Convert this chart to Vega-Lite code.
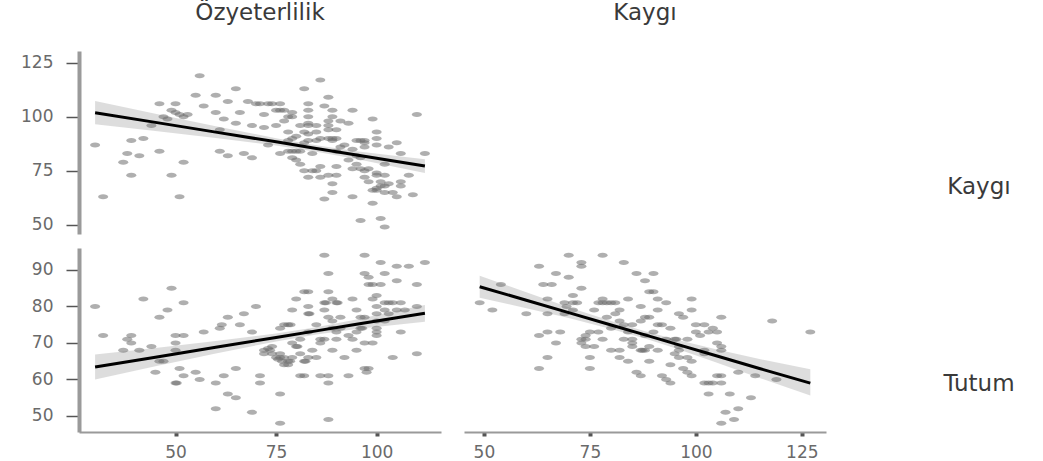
{
"$schema": "https://vega.github.io/schema/vega-lite/v6.json",
"padding": {"left": 20, "top": 2, "right": 0, "bottom": 0},
"background": "white",
"config": {
  "view": {"stroke": null},
  "font": "DejaVu Sans",
  "axis": {"grid": false, "labelFont": "DejaVu Sans", "labelFontSize": 17, "labelColor": "#6a6a6a", "domainColor": "#9a9a9a", "tickColor": "#555"},
  "axisY": {"domainWidth": 4, "tickWidth": 1.5, "tickSize": 13, "labelPadding": 13},
  "axisX": {"domainWidth": 2, "tickWidth": 4, "tickSize": 4, "labelPadding": 8},
  "title": {"font": "DejaVu Sans", "fontSize": 23, "fontWeight": "normal", "color": "#3a3a3a", "anchor": "middle", "frame": "group", "offset": 26}
},
"datasets": {
  "tl": [{"ozy":30,"kaygi":87},{"ozy":32,"kaygi":63},{"ozy":37,"kaygi":79},{"ozy":38,"kaygi":83},{"ozy":39,"kaygi":73},{"ozy":39,"kaygi":89},{"ozy":41,"kaygi":82},{"ozy":42,"kaygi":90},{"ozy":44,"kaygi":96},{"ozy":46,"kaygi":84},{"ozy":46,"kaygi":106},{"ozy":47,"kaygi":100},{"ozy":48,"kaygi":99},{"ozy":49,"kaygi":103},{"ozy":49,"kaygi":73},{"ozy":50,"kaygi":106},{"ozy":50,"kaygi":102},{"ozy":51,"kaygi":101},{"ozy":51,"kaygi":63},{"ozy":52,"kaygi":79},{"ozy":52,"kaygi":100},{"ozy":53,"kaygi":101},{"ozy":55,"kaygi":110},{"ozy":56,"kaygi":119},{"ozy":57,"kaygi":105},{"ozy":60,"kaygi":110},{"ozy":60,"kaygi":102},{"ozy":61,"kaygi":94},{"ozy":61,"kaygi":84},{"ozy":62,"kaygi":99},{"ozy":63,"kaygi":107},{"ozy":63,"kaygi":82},{"ozy":65,"kaygi":113},{"ozy":66,"kaygi":102},{"ozy":65,"kaygi":97},{"ozy":67,"kaygi":83},{"ozy":68,"kaygi":107},{"ozy":69,"kaygi":81},{"ozy":69,"kaygi":96},{"ozy":70,"kaygi":106},{"ozy":71,"kaygi":106},{"ozy":72,"kaygi":101},{"ozy":72,"kaygi":95},{"ozy":73,"kaygi":106},{"ozy":73,"kaygi":87},{"ozy":74,"kaygi":106},{"ozy":75,"kaygi":103},{"ozy":75,"kaygi":96},{"ozy":76,"kaygi":106},{"ozy":76,"kaygi":103},{"ozy":76,"kaygi":83},{"ozy":77,"kaygi":103},{"ozy":77,"kaygi":98},{"ozy":78,"kaygi":100},{"ozy":78,"kaygi":89},{"ozy":78,"kaygi":93},{"ozy":79,"kaygi":100},{"ozy":79,"kaygi":102},{"ozy":79,"kaygi":90},{"ozy":79,"kaygi":84},{"ozy":80,"kaygi":80},{"ozy":80,"kaygi":91},{"ozy":80,"kaygi":84},{"ozy":81,"kaygi":78},{"ozy":81,"kaygi":96},{"ozy":82,"kaygi":113},{"ozy":82,"kaygi":88},{"ozy":82,"kaygi":75},{"ozy":83,"kaygi":106},{"ozy":83,"kaygi":96},{"ozy":83,"kaygi":103},{"ozy":83,"kaygi":97},{"ozy":83,"kaygi":92},{"ozy":83,"kaygi":89},{"ozy":84,"kaygi":75},{"ozy":83,"kaygi":72},{"ozy":84,"kaygi":83},{"ozy":85,"kaygi":96},{"ozy":85,"kaygi":89},{"ozy":85,"kaygi":93},{"ozy":86,"kaygi":117},{"ozy":86,"kaygi":72},{"ozy":86,"kaygi":77},{"ozy":87,"kaygi":62},{"ozy":87,"kaygi":105},{"ozy":88,"kaygi":96},{"ozy":88,"kaygi":94},{"ozy":88,"kaygi":109},{"ozy":88,"kaygi":90},{"ozy":89,"kaygi":90},{"ozy":89,"kaygi":69},{"ozy":89,"kaygi":65},{"ozy":89,"kaygi":103},{"ozy":89,"kaygi":100},{"ozy":90,"kaygi":84},{"ozy":90,"kaygi":73},{"ozy":90,"kaygi":77},{"ozy":91,"kaygi":98},{"ozy":91,"kaygi":86},{"ozy":92,"kaygi":87},{"ozy":93,"kaygi":97},{"ozy":93,"kaygi":80},{"ozy":94,"kaygi":103},{"ozy":94,"kaygi":63},{"ozy":94,"kaygi":85},{"ozy":95,"kaygi":89},{"ozy":95,"kaygi":82},{"ozy":95,"kaygi":78},{"ozy":96,"kaygi":52},{"ozy":96,"kaygi":76},{"ozy":96,"kaygi":89},{"ozy":96,"kaygi":81},{"ozy":97,"kaygi":75},{"ozy":97,"kaygi":89},{"ozy":97,"kaygi":86},{"ozy":98,"kaygi":76},{"ozy":98,"kaygi":70},{"ozy":99,"kaygi":99},{"ozy":99,"kaygi":60},{"ozy":99,"kaygi":66},{"ozy":100,"kaygi":87},{"ozy":100,"kaygi":93},{"ozy":100,"kaygi":90},{"ozy":100,"kaygi":73},{"ozy":100,"kaygi":67},{"ozy":101,"kaygi":70},{"ozy":101,"kaygi":53},{"ozy":102,"kaygi":65},{"ozy":102,"kaygi":73},{"ozy":102,"kaygi":49},{"ozy":102,"kaygi":78},{"ozy":102,"kaygi":68},{"ozy":103,"kaygi":69},{"ozy":103,"kaygi":86},{"ozy":104,"kaygi":65},{"ozy":105,"kaygi":88},{"ozy":105,"kaygi":63},{"ozy":106,"kaygi":70},{"ozy":106,"kaygi":68},{"ozy":106,"kaygi":83},{"ozy":108,"kaygi":73},{"ozy":109,"kaygi":64},{"ozy":110,"kaygi":101},{"ozy":112,"kaygi":83},{"ozy":97,"kaygi":88},{"ozy":97,"kaygi":72},{"ozy":101,"kaygi":68},{"ozy":100,"kaygi":66},{"ozy":100,"kaygi":74},{"ozy":94,"kaygi":76},{"ozy":89,"kaygi":89},{"ozy":88,"kaygi":73},{"ozy":85,"kaygi":75},{"ozy":81,"kaygi":84},{"ozy":78,"kaygi":84},{"ozy":79,"kaygi":81},{"ozy":83,"kaygi":100},{"ozy":82,"kaygi":93},{"ozy":86,"kaygi":90},{"ozy":88,"kaygi":98},{"ozy":90,"kaygi":90},{"ozy":90,"kaygi":94}],
  "bl": [{"ozy":30,"tutum":80},{"ozy":32,"tutum":72},{"ozy":37,"tutum":68},{"ozy":38,"tutum":71},{"ozy":39,"tutum":72},{"ozy":39,"tutum":70},{"ozy":41,"tutum":68},{"ozy":42,"tutum":82},{"ozy":44,"tutum":69},{"ozy":46,"tutum":77},{"ozy":46,"tutum":65},{"ozy":47,"tutum":65},{"ozy":45,"tutum":62},{"ozy":48,"tutum":79},{"ozy":49,"tutum":85},{"ozy":50,"tutum":59},{"ozy":50.3,"tutum":59},{"ozy":50,"tutum":72},{"ozy":52,"tutum":72},{"ozy":50,"tutum":70},{"ozy":50,"tutum":68},{"ozy":51,"tutum":63},{"ozy":52,"tutum":61},{"ozy":52,"tutum":81},{"ozy":55,"tutum":62},{"ozy":56,"tutum":60},{"ozy":57,"tutum":73},{"ozy":60,"tutum":59},{"ozy":60,"tutum":52},{"ozy":61,"tutum":74},{"ozy":61.5,"tutum":75},{"ozy":62,"tutum":61},{"ozy":63,"tutum":77},{"ozy":63,"tutum":56},{"ozy":65,"tutum":55},{"ozy":65,"tutum":63},{"ozy":66,"tutum":75},{"ozy":67,"tutum":78},{"ozy":69,"tutum":51},{"ozy":69,"tutum":73},{"ozy":70,"tutum":80},{"ozy":71,"tutum":61},{"ozy":71,"tutum":59},{"ozy":72,"tutum":68},{"ozy":72,"tutum":67},{"ozy":73,"tutum":68.5},{"ozy":73.5,"tutum":68},{"ozy":74,"tutum":69},{"ozy":74,"tutum":67},{"ozy":75,"tutum":66},{"ozy":75.5,"tutum":65.5},{"ozy":76,"tutum":67},{"ozy":76,"tutum":66},{"ozy":76.5,"tutum":65},{"ozy":77,"tutum":66},{"ozy":77,"tutum":64},{"ozy":78,"tutum":65},{"ozy":78,"tutum":64},{"ozy":78.5,"tutum":65},{"ozy":79,"tutum":66},{"ozy":76,"tutum":74},{"ozy":76,"tutum":56},{"ozy":76,"tutum":48},{"ozy":77,"tutum":75},{"ozy":78,"tutum":75},{"ozy":78.6,"tutum":75},{"ozy":79,"tutum":70},{"ozy":79,"tutum":79},{"ozy":80,"tutum":69},{"ozy":80.3,"tutum":69},{"ozy":80,"tutum":82},{"ozy":81,"tutum":71},{"ozy":81,"tutum":61},{"ozy":82,"tutum":61},{"ozy":81,"tutum":67},{"ozy":82,"tutum":65},{"ozy":82.3,"tutum":65},{"ozy":83,"tutum":66},{"ozy":82,"tutum":84},{"ozy":83,"tutum":84},{"ozy":83,"tutum":80},{"ozy":83,"tutum":78},{"ozy":83.3,"tutum":78},{"ozy":83,"tutum":73},{"ozy":84,"tutum":68},{"ozy":85,"tutum":66},{"ozy":85,"tutum":75},{"ozy":86,"tutum":71},{"ozy":86,"tutum":70},{"ozy":86,"tutum":61},{"ozy":88,"tutum":61},{"ozy":87,"tutum":81},{"ozy":87.4,"tutum":81},{"ozy":87,"tutum":94},{"ozy":87,"tutum":79},{"ozy":87,"tutum":71},{"ozy":88,"tutum":77},{"ozy":88,"tutum":89},{"ozy":88,"tutum":59},{"ozy":88,"tutum":49},{"ozy":88,"tutum":84},{"ozy":89,"tutum":82},{"ozy":89,"tutum":76},{"ozy":89,"tutum":74},{"ozy":89,"tutum":68},{"ozy":90,"tutum":81},{"ozy":90.3,"tutum":81},{"ozy":90,"tutum":71},{"ozy":90,"tutum":73},{"ozy":91,"tutum":74},{"ozy":91,"tutum":77},{"ozy":92,"tutum":66},{"ozy":93,"tutum":72},{"ozy":93,"tutum":61},{"ozy":94,"tutum":82},{"ozy":94,"tutum":71},{"ozy":95,"tutum":73},{"ozy":95,"tutum":79},{"ozy":95,"tutum":68},{"ozy":96,"tutum":77},{"ozy":96,"tutum":74},{"ozy":96.4,"tutum":74},{"ozy":97,"tutum":70},{"ozy":97,"tutum":94},{"ozy":97,"tutum":63},{"ozy":97.5,"tutum":62},{"ozy":98,"tutum":63},{"ozy":97,"tutum":77},{"ozy":97,"tutum":89},{"ozy":98,"tutum":88},{"ozy":98,"tutum":86},{"ozy":99,"tutum":86},{"ozy":101,"tutum":86},{"ozy":99,"tutum":82},{"ozy":99,"tutum":70},{"ozy":100,"tutum":83},{"ozy":100,"tutum":80},{"ozy":100,"tutum":78},{"ozy":100,"tutum":76},{"ozy":100,"tutum":74},{"ozy":100,"tutum":73},{"ozy":100,"tutum":72},{"ozy":101,"tutum":92},{"ozy":102,"tutum":81},{"ozy":103,"tutum":81},{"ozy":104,"tutum":81},{"ozy":106,"tutum":81},{"ozy":102,"tutum":89},{"ozy":104,"tutum":66},{"ozy":105,"tutum":87},{"ozy":105,"tutum":91},{"ozy":106,"tutum":73},{"ozy":107,"tutum":79},{"ozy":108,"tutum":91},{"ozy":110,"tutum":86},{"ozy":110,"tutum":67},{"ozy":110,"tutum":80},{"ozy":112,"tutum":92},{"ozy":102,"tutum":79},{"ozy":103,"tutum":78},{"ozy":105,"tutum":79},{"ozy":102,"tutum":76}],
  "br": [{"kaygi":49,"tutum":81},{"kaygi":52,"tutum":79},{"kaygi":54,"tutum":86},{"kaygi":60,"tutum":78},{"kaygi":63,"tutum":72},{"kaygi":63,"tutum":63},{"kaygi":63,"tutum":91},{"kaygi":64,"tutum":86},{"kaygi":65,"tutum":82},{"kaygi":65,"tutum":78},{"kaygi":65,"tutum":66},{"kaygi":65,"tutum":73},{"kaygi":66,"tutum":86},{"kaygi":67,"tutum":70},{"kaygi":67,"tutum":89},{"kaygi":68,"tutum":73},{"kaygi":69,"tutum":78},{"kaygi":69,"tutum":81},{"kaygi":69.5,"tutum":80},{"kaygi":70,"tutum":88},{"kaygi":70,"tutum":94},{"kaygi":71,"tutum":81},{"kaygi":71,"tutum":83},{"kaygi":71,"tutum":79},{"kaygi":72,"tutum":81},{"kaygi":73,"tutum":92},{"kaygi":73,"tutum":91},{"kaygi":73,"tutum":85},{"kaygi":73,"tutum":70},{"kaygi":73,"tutum":71},{"kaygi":74,"tutum":72},{"kaygi":74,"tutum":69},{"kaygi":74,"tutum":71},{"kaygi":75,"tutum":73},{"kaygi":75,"tutum":66},{"kaygi":75,"tutum":63},{"kaygi":76,"tutum":69},{"kaygi":76,"tutum":79},{"kaygi":77,"tutum":73},{"kaygi":77,"tutum":81},{"kaygi":78,"tutum":82},{"kaygi":78,"tutum":94},{"kaygi":78,"tutum":81},{"kaygi":78,"tutum":71},{"kaygi":79,"tutum":81},{"kaygi":79,"tutum":77},{"kaygi":80,"tutum":81},{"kaygi":80,"tutum":74},{"kaygi":80,"tutum":68},{"kaygi":81,"tutum":78},{"kaygi":81,"tutum":81},{"kaygi":82,"tutum":66},{"kaygi":82,"tutum":68},{"kaygi":82,"tutum":79},{"kaygi":82,"tutum":76},{"kaygi":83,"tutum":71},{"kaygi":83,"tutum":92},{"kaygi":83,"tutum":75},{"kaygi":84,"tutum":82},{"kaygi":84,"tutum":65},{"kaygi":84,"tutum":73},{"kaygi":85,"tutum":69},{"kaygi":85,"tutum":75},{"kaygi":85,"tutum":71},{"kaygi":85,"tutum":70},{"kaygi":86,"tutum":62},{"kaygi":86,"tutum":89},{"kaygi":87,"tutum":76},{"kaygi":87,"tutum":68},{"kaygi":87,"tutum":61},{"kaygi":87.4,"tutum":68},{"kaygi":87,"tutum":80},{"kaygi":88,"tutum":87},{"kaygi":88,"tutum":68},{"kaygi":88,"tutum":77},{"kaygi":88,"tutum":72},{"kaygi":89,"tutum":69},{"kaygi":89,"tutum":77},{"kaygi":89,"tutum":65},{"kaygi":89,"tutum":84},{"kaygi":90,"tutum":89},{"kaygi":90,"tutum":73},{"kaygi":90,"tutum":84},{"kaygi":91,"tutum":82},{"kaygi":91,"tutum":75},{"kaygi":91,"tutum":68},{"kaygi":91,"tutum":79},{"kaygi":92,"tutum":75},{"kaygi":92,"tutum":61},{"kaygi":93,"tutum":81},{"kaygi":93,"tutum":71},{"kaygi":93,"tutum":60},{"kaygi":94,"tutum":59},{"kaygi":94,"tutum":74},{"kaygi":94,"tutum":64},{"kaygi":95,"tutum":67},{"kaygi":95,"tutum":71},{"kaygi":95.4,"tutum":71},{"kaygi":96,"tutum":78},{"kaygi":96,"tutum":69},{"kaygi":96,"tutum":66},{"kaygi":96,"tutum":68},{"kaygi":97,"tutum":63},{"kaygi":97,"tutum":77},{"kaygi":98,"tutum":71},{"kaygi":98,"tutum":66},{"kaygi":98,"tutum":62},{"kaygi":99,"tutum":61},{"kaygi":99,"tutum":82},{"kaygi":99,"tutum":79},{"kaygi":99,"tutum":65},{"kaygi":100,"tutum":73},{"kaygi":100,"tutum":75},{"kaygi":101,"tutum":72},{"kaygi":102,"tutum":68},{"kaygi":102,"tutum":59},{"kaygi":102,"tutum":75},{"kaygi":102,"tutum":67},{"kaygi":103,"tutum":59},{"kaygi":103,"tutum":56},{"kaygi":103,"tutum":73},{"kaygi":104,"tutum":59},{"kaygi":104,"tutum":74},{"kaygi":105,"tutum":73},{"kaygi":105,"tutum":70},{"kaygi":105,"tutum":61},{"kaygi":106,"tutum":59},{"kaygi":106,"tutum":69},{"kaygi":106,"tutum":68},{"kaygi":106,"tutum":77},{"kaygi":106,"tutum":61},{"kaygi":107,"tutum":51},{"kaygi":106,"tutum":48},{"kaygi":108,"tutum":56},{"kaygi":109,"tutum":49},{"kaygi":110,"tutum":62},{"kaygi":110,"tutum":52},{"kaygi":113,"tutum":55},{"kaygi":114,"tutum":61},{"kaygi":118,"tutum":76},{"kaygi":119,"tutum":60},{"kaygi":127,"tutum":73}],
  "tlfit": [{"x":30,"lo":96.5,"hi":107.3,"fit":101.9},{"x":45,"lo":93.4,"hi":101.4,"fit":97.4},{"x":60,"lo":90.2,"hi":95.6,"fit":92.9},{"x":75,"lo":86.7,"hi":90.1,"fit":88.4},{"x":85,"lo":83.8,"hi":86.8,"fit":85.3},{"x":95,"lo":80.5,"hi":84.1,"fit":82.3},{"x":105,"lo":76.7,"hi":81.9,"fit":79.3},{"x":112,"lo":74.0,"hi":80.4,"fit":77.2}],
  "blfit": [{"x":30,"lo":60.0,"hi":66.8,"fit":63.4},{"x":45,"lo":63.6,"hi":68.6,"fit":66.1},{"x":60,"lo":67.1,"hi":70.5,"fit":68.8},{"x":75,"lo":70.4,"hi":72.6,"fit":71.5},{"x":85,"lo":72.3,"hi":74.3,"fit":73.3},{"x":95,"lo":73.8,"hi":76.4,"fit":75.1},{"x":105,"lo":75.0,"hi":78.8,"fit":76.9},{"x":112,"lo":75.8,"hi":80.4,"fit":78.1}],
  "brfit": [{"x":49,"lo":82.4,"hi":88.4,"fit":85.4},{"x":60,"lo":79.5,"hi":83.9,"fit":81.7},{"x":70,"lo":76.8,"hi":79.8,"fit":78.3},{"x":80,"lo":73.8,"hi":76.0,"fit":74.9},{"x":88,"lo":71.2,"hi":73.2,"fit":72.2},{"x":95,"lo":68.6,"hi":71.0,"fit":69.8},{"x":105,"lo":64.6,"hi":68.2,"fit":66.4},{"x":115,"lo":60.4,"hi":65.6,"fit":63.0},{"x":127,"lo":55.6,"hi":62.8,"fit":59.0}]
},
"columns": 3,
"spacing": {"row": 14, "column": 23},
"align": "each",
"concat": [
  {
    "width": 362, "height": 183,
    "title": "Özyeterlilik",
    "layer": [
      {"data": {"name": "tlfit"}, "mark": {"type": "area", "color": "#d4d4d4", "opacity": 0.8},
       "encoding": {
         "x": {"field": "x", "type": "quantitative", "scale": {"domain": [26, 116], "nice": false, "zero": false}, "axis": null},
         "y": {"field": "lo", "type": "quantitative", "scale": {"domain": [45.8, 130.4], "nice": false, "zero": false}, "axis": {"values": [50, 75, 100, 125], "title": null}},
         "y2": {"field": "hi"}}},
      {"data": {"name": "tl"}, "mark": {"type": "point", "filled": true, "shape": "M-1,0A1,0.5,0,1,0,1,0A1,0.5,0,1,0,-1,0Z", "size": 100, "color": "#6e6e6e", "opacity": 0.55},
       "encoding": {
         "x": {"field": "ozy", "type": "quantitative", "scale": {"domain": [26, 116], "nice": false, "zero": false}, "axis": null},
         "y": {"field": "kaygi", "type": "quantitative", "scale": {"domain": [45.8, 130.4], "nice": false, "zero": false}, "axis": {"values": [50, 75, 100, 125], "title": null}}}},
      {"data": {"name": "tlfit"}, "mark": {"type": "line", "color": "#000", "strokeWidth": 3},
       "encoding": {
         "x": {"field": "x", "type": "quantitative", "scale": {"domain": [26, 116], "nice": false, "zero": false}, "axis": null},
         "y": {"field": "fit", "type": "quantitative", "scale": {"domain": [45.8, 130.4], "nice": false, "zero": false}, "axis": {"values": [50, 75, 100, 125], "title": null}}}}
    ]
  },
  {
    "width": 362, "height": 183,
    "title": "Kaygı",
    "data": {"values": [{"a": 1}]},
    "mark": {"type": "point", "opacity": 0},
    "encoding": {}
  },
  {
    "width": 170, "height": 183,
    "data": {"values": [{"label": "Kaygı"}]},
    "mark": {"type": "text", "font": "DejaVu Sans", "fontSize": 23, "color": "#3a3a3a", "dx": 45, "dy": 44},
    "encoding": {"text": {"field": "label"}}
  },
  {
    "width": 362, "height": 184,
    "layer": [
      {"data": {"name": "blfit"}, "mark": {"type": "area", "color": "#d4d4d4", "opacity": 0.8},
       "encoding": {
         "x": {"field": "x", "type": "quantitative", "scale": {"domain": [26, 116], "nice": false, "zero": false}, "axis": {"values": [50, 75, 100], "title": null}},
         "y": {"field": "lo", "type": "quantitative", "scale": {"domain": [45.6, 96], "nice": false, "zero": false}, "axis": {"values": [50, 60, 70, 80, 90], "title": null}},
         "y2": {"field": "hi"}}},
      {"data": {"name": "bl"}, "mark": {"type": "point", "filled": true, "shape": "M-1,0A1,0.5,0,1,0,1,0A1,0.5,0,1,0,-1,0Z", "size": 100, "color": "#6e6e6e", "opacity": 0.55},
       "encoding": {
         "x": {"field": "ozy", "type": "quantitative", "scale": {"domain": [26, 116], "nice": false, "zero": false}, "axis": {"values": [50, 75, 100], "title": null}},
         "y": {"field": "tutum", "type": "quantitative", "scale": {"domain": [45.6, 96], "nice": false, "zero": false}, "axis": {"values": [50, 60, 70, 80, 90], "title": null}}}},
      {"data": {"name": "blfit"}, "mark": {"type": "line", "color": "#000", "strokeWidth": 3},
       "encoding": {
         "x": {"field": "x", "type": "quantitative", "scale": {"domain": [26, 116], "nice": false, "zero": false}, "axis": {"values": [50, 75, 100], "title": null}},
         "y": {"field": "fit", "type": "quantitative", "scale": {"domain": [45.6, 96], "nice": false, "zero": false}, "axis": {"values": [50, 60, 70, 80, 90], "title": null}}}}
    ]
  },
  {
    "width": 362, "height": 184,
    "layer": [
      {"data": {"name": "brfit"}, "mark": {"type": "area", "color": "#d4d4d4", "opacity": 0.8},
       "encoding": {
         "x": {"field": "x", "type": "quantitative", "scale": {"domain": [45.3, 130.7], "nice": false, "zero": false}, "axis": {"values": [50, 75, 100, 125], "title": null}},
         "y": {"field": "lo", "type": "quantitative", "scale": {"domain": [45.6, 96], "nice": false, "zero": false}, "axis": null},
         "y2": {"field": "hi"}}},
      {"data": {"name": "br"}, "mark": {"type": "point", "filled": true, "shape": "M-1,0A1,0.5,0,1,0,1,0A1,0.5,0,1,0,-1,0Z", "size": 100, "color": "#6e6e6e", "opacity": 0.55},
       "encoding": {
         "x": {"field": "kaygi", "type": "quantitative", "scale": {"domain": [45.3, 130.7], "nice": false, "zero": false}, "axis": {"values": [50, 75, 100, 125], "title": null}},
         "y": {"field": "tutum", "type": "quantitative", "scale": {"domain": [45.6, 96], "nice": false, "zero": false}, "axis": null}}},
      {"data": {"name": "brfit"}, "mark": {"type": "line", "color": "#000", "strokeWidth": 3},
       "encoding": {
         "x": {"field": "x", "type": "quantitative", "scale": {"domain": [45.3, 130.7], "nice": false, "zero": false}, "axis": {"values": [50, 75, 100, 125], "title": null}},
         "y": {"field": "fit", "type": "quantitative", "scale": {"domain": [45.6, 96], "nice": false, "zero": false}, "axis": null}}}
    ]
  },
  {
    "width": 170, "height": 184,
    "data": {"values": [{"label": "Tutum"}]},
    "mark": {"type": "text", "font": "DejaVu Sans", "fontSize": 23, "color": "#3a3a3a", "dx": 45, "dy": 44},
    "encoding": {"text": {"field": "label"}}
  }
]
}
